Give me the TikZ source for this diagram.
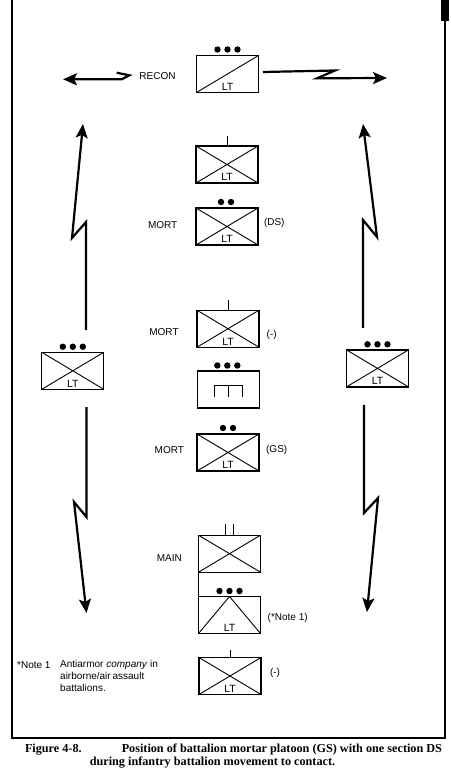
\documentclass[tikz,border=0pt]{standalone}
\usepackage{fontspec}
\setmainfont{Liberation Sans}
\newfontfamily\capfont{Liberation Serif}
\usetikzlibrary{arrows.meta,calc}
\newlength\notew
\begin{document}
\begin{tikzpicture}[x=1pt,y=-1pt,
 box/.style={draw, line width=1.2pt, minimum width=62pt, minimum height=37pt, inner sep=0pt, outer sep=0pt},
 xbox/.style={box, path picture={\draw[line width=0.9pt] (path picture bounding box.north west) -- (path picture bounding box.south east) (path picture bounding box.south west) -- (path picture bounding box.north east);}},
 diagbox/.style={box, path picture={\draw[line width=0.9pt] (path picture bounding box.south west) -- (path picture bounding box.north east);}},
 vbox/.style={box, path picture={\draw[line width=0.9pt] (path picture bounding box.south west) -- (path picture bounding box.north) -- (path picture bounding box.south east);}},
 lbl/.style={font=\fontsize{10}{12}\selectfont, inner sep=0pt},
 ltlbl/.style={font=\fontsize{10.5}{12}\selectfont, inner sep=0pt, anchor=south},
 bolt/.style={line width=2.2pt, line join=miter, -{Stealth[length=14pt,width=12pt,inset=3pt]}},
 tick/.style={line width=1pt},
 capt/.style={font=\capfont\bfseries\fontsize{12.2}{14}\selectfont, inner sep=0pt}
]
\useasboundingbox (0,0) rectangle (450,783);
% frame
\draw[line width=1.3pt] (12,0) -- (12,738) -- (445,738) -- (445,0);
\fill (441,0) rectangle (449,21);

% boxes
\node[diagbox] (recon) at (227.5,74) {};
\node[xbox] (b2) at (227,164.5) {};
\node[xbox] (b3) at (227,226.5) {};
\node[xbox] (b4) at (228,328.7) {};
\node[box] (b5) at (228.3,389.5) {};
\node[xbox] (b6) at (228,452.5) {};
\node[xbox] (b7) at (229.5,553.7) {};
\node[vbox] (b8) at (229.5,615) {};
\node[xbox] (b9) at (230,676) {};
\node[xbox] (lbox) at (72.8,370.8) {};
\node[xbox] (rbox) at (377.5,368.4) {};

% LT labels
\foreach \b in {recon,b2,b3,b4,b6,b8,b9,lbox,rbox}{
  \node[ltlbl] (\b-lt) at ([yshift=2pt]\b.south) {LT};
}

% dots
\foreach \dx in {-10,0,10}{
  \fill ($(recon.north)+(\dx,-6)$) circle[radius=3.2pt];
  \fill ($(b5.north)+(\dx-1,-5.5)$) circle[radius=3.2pt];
  \fill ($(b8.north)+(\dx,-5.5)$) circle[radius=3.2pt];
  \fill ($(lbox.north)+(\dx,-5.6)$) circle[radius=3.2pt];
  \fill ($(rbox.north)+(\dx,-5.6)$) circle[radius=3.2pt];
}
\foreach \dx in {-5,5}{
  \fill ($(b3.north)+(\dx-1,-6)$) circle[radius=3.2pt];
  \fill ($(b6.north)+(\dx,-6)$) circle[radius=3.2pt];
}

% ticks
\draw[tick] (b2.north) -- ++(0,-10);
\draw[tick] (b4.north) -- ++(0,-10);
\draw[tick] ($(b7.north)+(-4,0)$) -- ++(0,-11);
\draw[tick] ($(b7.north)+(3.5,0)$) -- ++(0,-11);
\draw[tick] (b9.north) -- ++(0,-8);
\draw[line width=1.2pt] (b7.south west) -- (b8.north west);

% mortar symbol
\draw[line width=1pt] ($(b5.center)+(-14.2,7.2)$) -- ($(b5.center)+(-14.2,-3.8)$) -- ($(b5.center)+(14.2,-3.8)$) -- ($(b5.center)+(14.2,7.2)$);
\draw[line width=1pt] ($(b5.center)+(0,-3.8)$) -- ($(b5.center)+(0,7.2)$);

% text labels
\node[lbl] (recon-t) at (157.5,76) {RECON};
\node[lbl] (m1) at (162.7,225) {MORT};
\node[lbl] (ds) at (274.3,223) {(DS)};
\node[lbl] (m2) at (164,331.7) {MORT};
\node[lbl] (minus1) at (271.7,335) {(-)};
\node[lbl] (m3) at (169.3,450) {MORT};
\node[lbl] (gs) at (276.7,450) {(GS)};
\node[lbl] (main) at (169.3,558.3) {MAIN};
\node[lbl] (note1) at (287.7,618.3) {(*Note 1)};
\node[lbl] (minus2) at (275,673.3) {(-)};

% bolts
\coordinate (ul1) at (86,222); \coordinate (ul2) at (72,238); \coordinate (ultip) at (83,124);
\draw[bolt] ($(lbox.north)+(13.2,-22.3)$) -- (ul1) -- (ul2) -- (ultip);
\coordinate (ur1) at (363,220); \coordinate (ur2) at (377,237); \coordinate (urtip) at (363,124);
\draw[bolt] ($(rbox.north)+(-14.5,-22)$) -- (ur1) -- (ur2) -- (urtip);
\coordinate (ll1) at (86.5,517); \coordinate (ll2) at (74,502); \coordinate (lltip) at (86.5,613);
\draw[bolt] ($(lbox.south)+(13.7,17.7)$) -- (ll1) -- (ll2) -- (lltip);
\coordinate (lr1) at (364,513); \coordinate (lr2) at (378,498); \coordinate (lrtip) at (367,612);
\draw[bolt] ($(rbox.south)+(-13.5,18)$) -- (lr1) -- (lr2) -- (lrtip);
\coordinate (hr1) at (335,70.5); \coordinate (hr2) at (317,78.3); \coordinate (hrtip) at (387,78);
\draw[bolt] ($(recon.east)+(4.5,-2)$) -- (hr1) -- (hr2) -- (hrtip);
\coordinate (hl0) at (116.7,72.7); \coordinate (hl1) at (129.3,75.3); \coordinate (hl2) at (121.7,79.3); \coordinate (hltip) at (63,79.3);
\draw[bolt] (hl0) -- (hl1) -- (hl2) -- (hltip);

% note
\node[lbl, anchor=west] (notehead) at (17,665) {*Note 1};
\node[lbl, anchor=north west, align=left, font=\fontsize{10}{12}\selectfont] (notebody) at (60,660.5)
  {\settowidth{\notew}{Antiarmor \textit{company} in}Antiarmor \textit{company} in\\
   \makebox[\notew][s]{airborne/air assault}\\
   battalions.};

% caption
\node[capt] (cap1) at (233.5,749.5) {\makebox[417pt][s]{Figure 4-8.\hfill Position of battalion mortar platoon (GS) with one section DS}};
\node[capt] (cap2) at (212.5,763) {during infantry battalion movement to contact.};
\end{tikzpicture}
\end{document}
